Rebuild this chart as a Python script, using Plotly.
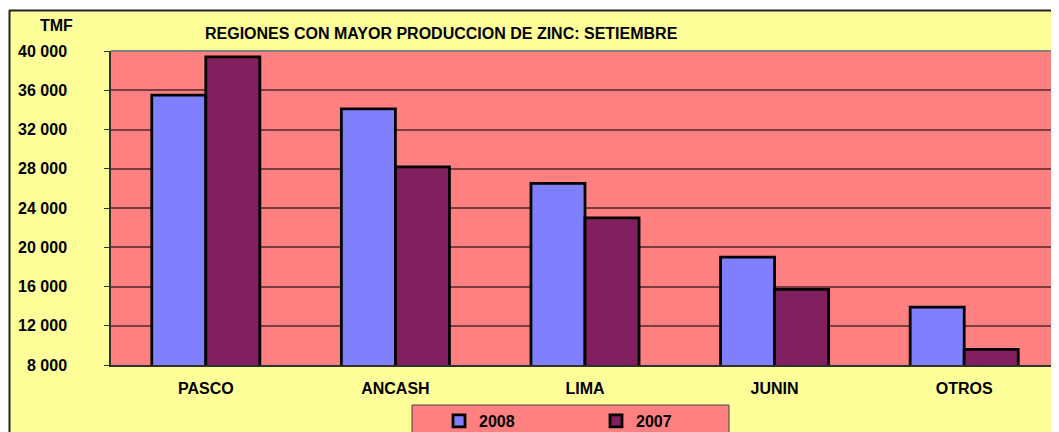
import plotly.graph_objects as go

categories = ["PASCO", "ANCASH", "LIMA", "JUNIN", "OTROS"]
values_2008 = [35500, 34100, 26500, 19000, 13900]
values_2007 = [39400, 28200, 23000, 15700, 9600]
y_ticks = [8000, 12000, 16000, 20000, 24000, 28000, 32000, 36000, 40000]
y_tick_labels = ["8 000", "12 000", "16 000", "20 000", "24 000", "28 000", "32 000", "36 000", "40 000"]

# page has an 8px body margin, so the figure starts at screen (8, 8)
W, H = 1051, 424
ML, MR, MT, MB = 103, 0, 43, 67
PW = W - ML - MR   # 948
PH = H - MT - MB   # 314
SX0, SY1 = 111, 365  # screen position of plot-area left / bottom


def px(x):
    return (x - SX0) / PW


def py(y):
    return (SY1 - y) / PH


FONT = "Liberation Sans, Arial, sans-serif"
FS = 16
YELLOW = "#FFFF99"
SALMON = "#FF8080"
BLUE = "#8080FF"
PLUM = "#821F5E"

fig = go.Figure()
fig.add_trace(go.Bar(x=categories, y=values_2008, name="2008",
                     marker=dict(color=BLUE, line=dict(color="black", width=2.8))))
fig.add_trace(go.Bar(x=categories, y=values_2007, name="2007",
                     marker=dict(color=PLUM, line=dict(color="black", width=2.8))))

shapes = [
    # white outer strips
    dict(type="rect", xref="paper", yref="paper", x0=px(-20), x1=px(1100), y0=py(10), y1=py(-20),
         fillcolor="white", line=dict(width=0), layer="above"),
    dict(type="rect", xref="paper", yref="paper", x0=px(-20), x1=px(9), y0=py(470), y1=py(-20),
         fillcolor="white", line=dict(width=0), layer="above"),
    # chart border
    dict(type="line", xref="paper", yref="paper", x0=px(9), x1=px(1100), y0=py(10.5), y1=py(10.5),
         line=dict(color="#222222", width=2), layer="above"),
    dict(type="line", xref="paper", yref="paper", x0=px(9.5), x1=px(9.5), y0=py(10), y1=py(470),
         line=dict(color="#222222", width=2), layer="above"),
    # plot area top border
    dict(type="line", xref="paper", yref="paper", x0=0, x1=1, y0=1, y1=1,
         line=dict(color="#808080", width=2), layer="above"),
    # legend box
    dict(type="rect", xref="paper", yref="paper", x0=px(412), x1=px(729), y0=py(470), y1=py(405),
         fillcolor=SALMON, line=dict(color="#404040", width=1), layer="below"),
]

fig.update_layout(
    width=W, height=H,
    margin=dict(l=ML, r=MR, t=MT, b=MB, autoexpand=False),
    paper_bgcolor=YELLOW,
    plot_bgcolor=SALMON,
    font=dict(family=FONT, size=FS, color="black"),
    barmode="group",
    bargap=0.43,
    bargroupgap=0,
    showlegend=True,
    legend=dict(orientation="h", x=px(439), y=py(438), xanchor="left", yanchor="bottom",
                bgcolor="rgba(0,0,0,0)", font=dict(family=FONT, size=FS, color="black", weight="bold"),
                entrywidth=112, entrywidthmode="pixels", traceorder="normal"),
    shapes=shapes,
    annotations=[
        dict(text="<b>REGIONES CON MAYOR PRODUCCION DE ZINC: SETIEMBRE</b>", xref="paper", yref="paper",
             x=px(441.5), y=py(33), xanchor="center", yanchor="middle", showarrow=False,
             font=dict(family=FONT, size=FS, color="black")),
        dict(text="<b>TMF</b>", xref="paper", yref="paper",
             x=px(56), y=py(26), xanchor="center", yanchor="middle", showarrow=False,
             font=dict(family=FONT, size=FS, color="black")),
    ],
)

fig.update_xaxes(
    showgrid=False, showline=True, linecolor="#303030", linewidth=1.5,
    ticks="", tickfont=dict(family=FONT, size=FS, color="black", weight="bold"),
    ticklabelstandoff=8,
)
fig.update_yaxes(
    range=[8000, 40000], tickvals=y_ticks, ticktext=y_tick_labels,
    showgrid=True, gridcolor="#7a3c3c", gridwidth=1.5,
    showline=True, linecolor="#303030", linewidth=1.5,
    ticks="outside", ticklen=5, tickcolor="#303030",
    tickfont=dict(family=FONT, size=FS, color="black", weight="bold"),
    ticklabelstandoff=34, zeroline=False,
)

fig.write_html("out.html")
